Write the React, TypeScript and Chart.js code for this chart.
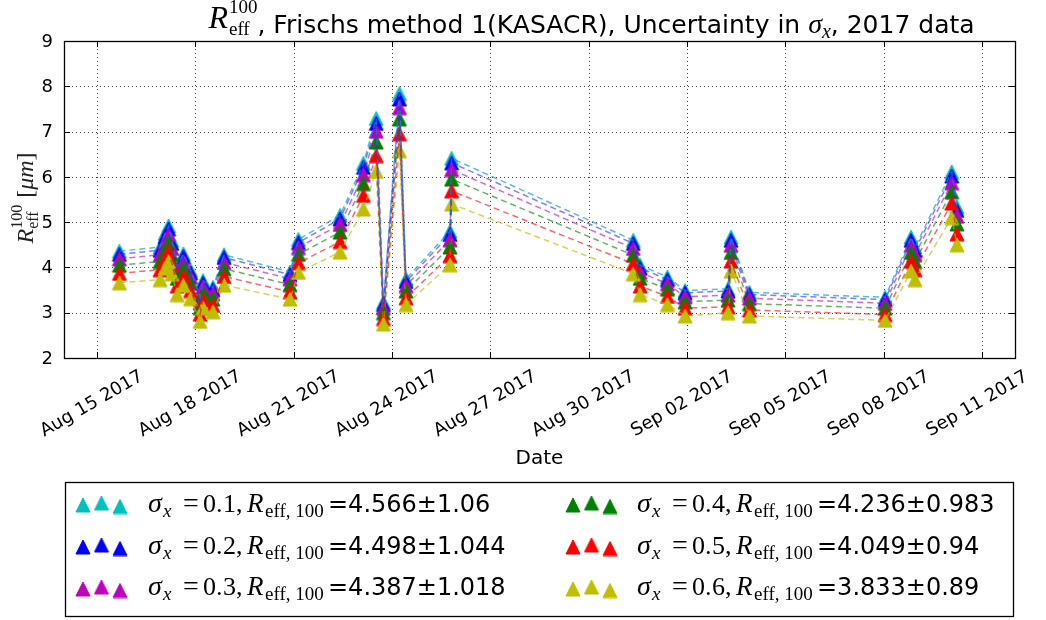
import React, { useEffect, useRef } from 'react';
import { Chart, registerables } from 'chart.js';

Chart.register(...registerables);

// ---------- data ----------
const rangeStart = '2017-08-14';
const rangeEnd = '2017-09-12';

const obsTimes = [
  '2017-08-15T16:34', '2017-08-16T22:19', '2017-08-17T01:55', '2017-08-17T04:34',
  '2017-08-17T06:58', '2017-08-17T10:48', '2017-08-17T15:22', '2017-08-17T20:38',
  '2017-08-18T03:36', '2017-08-18T05:46', '2017-08-18T12:58', '2017-08-18T21:07',
  '2017-08-20T21:22', '2017-08-21T03:36', '2017-08-22T10:05', '2017-08-23T03:07',
  '2017-08-23T12:29', '2017-08-23T17:46', '2017-08-24T05:31', '2017-08-24T10:19',
  '2017-08-25T18:29', '2017-08-25T19:41', '2017-08-31T08:38', '2017-08-31T13:41',
  '2017-09-01T09:36', '2017-09-01T22:34', '2017-09-03T06:00', '2017-09-03T08:10',
  '2017-09-03T21:36', '2017-09-08T00:58', '2017-09-08T19:55', '2017-09-08T22:48',
  '2017-09-10T01:41', '2017-09-10T05:31',
];

const reffSigma01 = [4.36, 4.45, 4.75, 4.92, 4.60, 4.05, 4.30, 3.94, 3.35, 3.71, 3.56, 4.28, 3.90, 4.62, 5.15, 6.30, 7.29, 3.23, 7.84, 3.75, 4.80, 6.41, 4.60, 4.05, 3.79, 3.49, 3.53, 4.67, 3.45, 3.34, 4.67, 4.45, 6.11, 5.34];
const reffSigma02 = [4.29, 4.38, 4.68, 4.85, 4.53, 3.99, 4.24, 3.88, 3.30, 3.65, 3.51, 4.22, 3.84, 4.55, 5.07, 6.21, 7.18, 3.18, 7.72, 3.69, 4.73, 6.31, 4.53, 3.99, 3.73, 3.44, 3.48, 4.60, 3.40, 3.29, 4.60, 4.38, 6.02, 5.26];
const reffSigma03 = [4.19, 4.28, 4.56, 4.73, 4.42, 3.89, 4.13, 3.79, 3.22, 3.57, 3.42, 4.11, 3.75, 4.44, 4.95, 6.05, 7.01, 3.10, 7.53, 3.60, 4.61, 6.16, 4.42, 3.89, 3.64, 3.35, 3.39, 4.49, 3.32, 3.21, 4.49, 4.28, 5.87, 5.13];
const reffSigma04 = [4.05, 4.13, 4.41, 4.57, 4.27, 3.76, 3.99, 3.66, 3.11, 3.44, 3.30, 3.97, 3.62, 4.29, 4.78, 5.85, 6.77, 3.00, 7.28, 3.48, 4.45, 5.95, 4.27, 3.76, 3.52, 3.24, 3.28, 4.33, 3.20, 3.10, 4.33, 4.13, 5.67, 4.96];
const reffSigma05 = [3.87, 3.95, 4.21, 4.36, 4.08, 3.59, 3.81, 3.49, 2.97, 3.29, 3.16, 3.80, 3.46, 4.10, 4.57, 5.59, 6.47, 2.87, 6.95, 3.33, 4.26, 5.69, 4.08, 3.59, 3.36, 3.10, 3.13, 4.14, 3.06, 2.96, 4.14, 3.95, 5.42, 4.74];
const reffSigma06 = [3.66, 3.73, 3.99, 4.13, 3.86, 3.40, 3.61, 3.31, 2.81, 3.11, 3.02, 3.61, 3.30, 3.89, 4.34, 5.29, 6.12, 2.75, 6.58, 3.18, 4.06, 5.40, 3.86, 3.40, 3.18, 2.93, 3.00, 3.92, 2.93, 2.83, 3.92, 3.73, 5.10, 4.50];

const sigmaValues = ['0.1', '0.2', '0.3', '0.4', '0.5', '0.6'];
const meanValues = ['4.566', '4.498', '4.387', '4.236', '4.049', '3.833'];
const stdValues = ['1.06', '1.044', '1.018', '0.983', '0.94', '0.89'];

const xTickDates = ['2017-08-15', '2017-08-18', '2017-08-21', '2017-08-24', '2017-08-27', '2017-08-30', '2017-09-02', '2017-09-05', '2017-09-08', '2017-09-11'];
const xTickLabels = ['Aug 15 2017', 'Aug 18 2017', 'Aug 21 2017', 'Aug 24 2017', 'Aug 27 2017', 'Aug 30 2017', 'Sep 02 2017', 'Sep 05 2017', 'Sep 08 2017', 'Sep 11 2017'];
const yTickValues = [2, 3, 4, 5, 6, 7, 8, 9];

// ---------- styles ----------
const seriesValues = [reffSigma01, reffSigma02, reffSigma03, reffSigma04, reffSigma05, reffSigma06];
const markerColors = ['#00bfbf', '#0000ff', '#bf00bf', '#008000', '#ff0000', '#bfbf00'];
const lineColors = ['rgba(0,150,210,0.65)', 'rgba(40,40,255,0.6)', 'rgba(191,0,191,0.6)', 'rgba(0,128,0,0.6)', 'rgba(255,0,0,0.6)', 'rgba(191,191,0,0.65)'];

const T0 = Date.parse(rangeStart + 'T00:00:00Z');
const toDays = (s: string) => (Date.parse(s.length === 10 ? s + 'T00:00:00Z' : s + ':00Z') - T0) / 86400000;

const SANS = '"DejaVu Sans"';
const SERIF = '"Liberation Serif"';
const sans = (s: number) => `${s}px ${SANS}`;
const serif = (s: number) => `${s}px ${SERIF}`;
const serifI = (s: number) => `italic ${s}px ${SERIF}`;

type Run = { t: string; f: string; dy?: number; dx?: number; at?: number; stack?: boolean };

function layoutRuns(ctx: CanvasRenderingContext2D, runs: Run[]) {
  let x = 0;
  let pend = 0;
  const pos: number[] = [];
  for (const r of runs) {
    ctx.font = r.f;
    const w = ctx.measureText(r.t).width;
    if (r.at !== undefined) x = r.at;
    x += r.dx || 0;
    pos.push(x);
    if (r.stack) {
      pend = Math.max(pend, w);
    } else {
      x += Math.max(w, pend);
      pend = 0;
    }
  }
  return { w: x, pos };
}

function drawRuns(ctx: CanvasRenderingContext2D, x0: number, y0: number, runs: Run[]) {
  const { pos } = layoutRuns(ctx, runs);
  runs.forEach((r, i) => {
    ctx.font = r.f;
    ctx.fillText(r.t, x0 + pos[i], y0 + (r.dy || 0));
  });
}

function makeTriangle(color: string, size: number) {
  const c = document.createElement('canvas');
  c.width = size + 2;
  c.height = size + 2;
  const g = c.getContext('2d')!;
  g.fillStyle = color;
  g.strokeStyle = color;
  g.lineWidth = 1;
  g.beginPath();
  g.moveTo(1 + size / 2, 1);
  g.lineTo(1 + size, 1 + size);
  g.lineTo(1, 1 + size);
  g.closePath();
  g.fill();
  g.stroke();
  return c;
}

export default function App() {
  const ref = useRef<HTMLCanvasElement>(null);

  useEffect(() => {
    const canvas = ref.current!;
    const triangles = markerColors.map((c) => makeTriangle(c, 14));
    const xs = obsTimes.map(toDays);

    const scatterSets = seriesValues.map((vals, i) => ({
      label: 'sigma ' + sigmaValues[i],
      data: vals.map((v, j) => ({ x: xs[j], y: v })),
      showLine: false,
      pointStyle: triangles[i],
      pointRadius: 7,
      backgroundColor: markerColors[i],
      borderColor: markerColors[i],
      order: 10 - i,
    }));
    const lineSets = seriesValues.map((vals, i) => ({
      label: 'line ' + sigmaValues[i],
      data: vals.map((v, j) => ({ x: xs[j], y: v })),
      showLine: true,
      pointRadius: 0,
      borderColor: lineColors[i],
      borderWidth: 1.5,
      borderDash: [6, 4],
      tension: 0,
      fill: false,
      order: 0,
    }));

    const decor = {
      id: 'decor',
      beforeDatasetsDraw(chart: any) {
        const { ctx, chartArea: a, scales } = chart;
        ctx.save();
        ctx.strokeStyle = 'rgba(0,0,0,0.75)';
        ctx.lineWidth = 1;
        ctx.setLineDash([1, 3]);
        for (const d of xTickDates) {
          const px = Math.round(scales.x.getPixelForValue(toDays(d))) + 0.5;
          ctx.beginPath();
          ctx.moveTo(px, a.top);
          ctx.lineTo(px, a.bottom);
          ctx.stroke();
        }
        for (const v of yTickValues) {
          const py = Math.round(scales.y.getPixelForValue(v)) + 0.5;
          ctx.beginPath();
          ctx.moveTo(a.left, py);
          ctx.lineTo(a.right, py);
          ctx.stroke();
        }
        ctx.restore();
      },
      afterDraw(chart: any) {
        const { ctx, chartArea: a, scales } = chart;
        ctx.save();
        ctx.fillStyle = '#000';
        ctx.strokeStyle = '#000';
        // frame
        ctx.lineWidth = 1.3;
        ctx.setLineDash([]);
        ctx.strokeRect(Math.round(a.left) + 0.5, Math.round(a.top) + 0.5, Math.round(a.right - a.left), Math.round(a.bottom - a.top));
        // ticks
        ctx.lineWidth = 1;
        const tl = 6;
        for (const d of xTickDates) {
          const px = Math.round(scales.x.getPixelForValue(toDays(d))) + 0.5;
          ctx.beginPath();
          ctx.moveTo(px, a.bottom);
          ctx.lineTo(px, a.bottom - tl);
          ctx.moveTo(px, a.top);
          ctx.lineTo(px, a.top + tl);
          ctx.stroke();
        }
        for (const v of yTickValues) {
          const py = Math.round(scales.y.getPixelForValue(v)) + 0.5;
          ctx.beginPath();
          ctx.moveTo(a.left, py);
          ctx.lineTo(a.left + tl, py);
          ctx.moveTo(a.right, py);
          ctx.lineTo(a.right - tl, py);
          ctx.stroke();
        }
        // y tick labels
        ctx.font = sans(18);
        ctx.textAlign = 'right';
        ctx.textBaseline = 'middle';
        for (const v of yTickValues) {
          ctx.fillText(String(v), a.left - 11, scales.y.getPixelForValue(v) + 1);
        }
        // x tick labels (rotated 30deg, centered)
        ctx.textAlign = 'center';
        ctx.textBaseline = 'middle';
        ctx.font = sans(18);
        xTickDates.forEach((d, i) => {
          const px = scales.x.getPixelForValue(toDays(d));
          ctx.save();
          ctx.translate(px - 5, 404);
          ctx.rotate(-Math.PI / 6);
          ctx.fillText(xTickLabels[i], 0, 0);
          ctx.restore();
        });
        // x axis label
        ctx.textBaseline = 'alphabetic';
        ctx.font = sans(20);
        ctx.fillText('Date', (a.left + a.right) / 2, 464);

        // y axis label (math)
        ctx.textAlign = 'left';
        const yRuns: Run[] = [
          { t: 'R', f: serifI(24) },
          { t: 'eff', f: serif(16), dy: 5, stack: true },
          { t: '100', f: serif(16), dy: -11 },
          { t: '[', f: serif(24), dx: 7 },
          { t: 'μm', f: serifI(24) },
          { t: ']', f: serif(24) },
        ];
        const yl = layoutRuns(ctx, yRuns);
        ctx.save();
        ctx.translate(33, 198);
        ctx.rotate(-Math.PI / 2);
        ctx.fillStyle = '#222';
        drawRuns(ctx, -yl.w / 2, 0, yRuns);
        ctx.restore();

        // title
        const tRuns: Run[] = [
          { t: 'R', f: serifI(32), dy: -5 },
          { t: 'eff', f: serif(19), dy: 2, stack: true, dx: 1 },
          { t: '100', f: serif(19), dy: -20 },
          { t: ', Frischs method 1(KASACR), Uncertainty in ', f: sans(25) },
          { t: 'σ', f: serifI(28) },
          { t: 'x', f: serifI(20), dy: 5 },
          { t: ', 2017 data', f: sans(25) },
        ];
        const tl2 = layoutRuns(ctx, tRuns);
        drawRuns(ctx, 591.5 - tl2.w / 2, 33, tRuns);

        // legend
        const box = { l: 65, t: 482, r: 1013, b: 616 };
        ctx.lineWidth = 1.3;
        ctx.strokeStyle = '#000';
        ctx.strokeRect(box.l + 0.5, box.t + 0.5, box.r - box.l, box.b - box.t);
        const colMarkX = [[83, 101.5, 120], [573, 591.5, 610]];
        const colTextX = [148, 637];
        const markDy = [2, 0, 3.5];
        for (let i = 0; i < 6; i++) {
          const col = i < 3 ? 0 : 1;
          const row = i % 3;
          const midY = 503 + row * 42;
          const img = triangles[i];
          for (let k = 0; k < 3; k++) {
            ctx.drawImage(img, colMarkX[col][k] - img.width / 2, midY + markDy[k] - img.height / 2);
          }
          const base = 512 + row * 41.7;
          const runs: Run[] = [
            { t: 'σ', f: serifI(28), at: 0 },
            { t: 'x', f: serifI(19), at: 15, dy: 5 },
            { t: '=', f: serif(28), at: 35 },
            { t: sigmaValues[i].slice(0, 2), f: serif(26), at: 55 },
            { t: sigmaValues[i].slice(2), f: serif(26), at: 75 },
            { t: ',', f: serif(26), at: 88 },
            { t: 'R', f: serifI(27), at: 99 },
            { t: 'eff, 100', f: serif(19), at: 117, dy: 5 },
            { t: '=' + meanValues[i] + '±' + stdValues[i], f: sans(24), at: 180 },
          ];
          ctx.fillStyle = '#000';
          drawRuns(ctx, colTextX[col], base, runs);
        }
        ctx.restore();
      },
    };

    const chart = new Chart(canvas, {
      type: 'scatter',
      data: { datasets: [...lineSets, ...scatterSets] as any },
      options: {
        animation: false,
        responsive: false,
        maintainAspectRatio: false,
        devicePixelRatio: 1,
        events: [],
        layout: { padding: { left: 64, top: 41, right: 31, bottom: 262 } },
        scales: {
          x: { type: 'linear', min: 0, max: toDays(rangeEnd), display: false },
          y: { type: 'linear', min: 2, max: 9, display: false },
        },
        plugins: {
          legend: { display: false },
          tooltip: { enabled: false },
          title: { display: false },
        },
      },
      plugins: [decor],
    } as any);
    return () => chart.destroy();
  }, []);

  return (
    <div style={{ position: 'absolute', left: 0, top: 0, width: 1046, height: 620, background: '#fff' }}>
      <canvas ref={ref} width={1046} height={620} style={{ display: 'block', width: 1046, height: 620 }} />
    </div>
  );
}
